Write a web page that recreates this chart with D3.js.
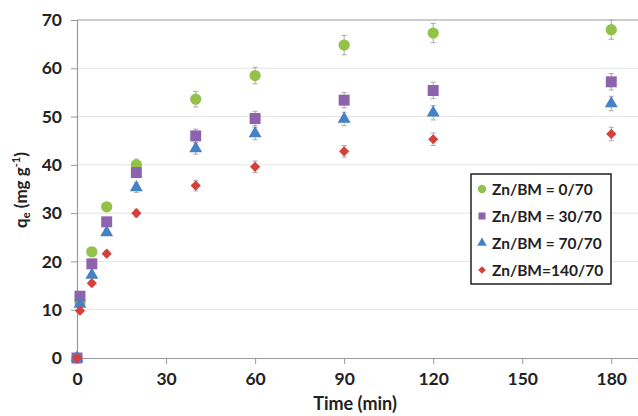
<!DOCTYPE html>
<html><head><meta charset="utf-8">
<script src="https://cdn.jsdelivr.net/npm/d3@7"></script>
<style>
body{margin:0;background:#fff;}
svg{font-family:Lato,"Open Sans",sans-serif;}
</style></head>
<body>
<svg id="c" width="638" height="416"></svg>
<script>
const times = [0, 1, 5, 10, 20, 40, 60, 90, 120, 180];
const seriesNames = ["Zn/BM = 0/70", "Zn/BM = 30/70", "Zn/BM = 70/70", "Zn/BM=140/70"];
const q0 = [0, 11.5, 22.0, 31.3, 40.0, 53.6, 58.5, 64.8, 67.3, 68.0];
const q30 = [0, 12.8, 19.5, 28.2, 38.4, 46.0, 49.6, 53.4, 55.4, 57.2];
const q70 = [0, 11.2, 17.2, 26.0, 35.3, 43.4, 46.5, 49.5, 50.8, 52.7];
const q140 = [0, 9.8, 15.5, 21.6, 30.0, 35.7, 39.6, 42.8, 45.3, 46.4];
const e0 = [0, 0.5, 0.6, 0.8, 1.2, 1.6, 1.7, 2.0, 2.0, 2.0];
const e30 = [0, 0.5, 0.6, 0.7, 1.0, 1.4, 1.5, 1.6, 1.7, 1.7];
const e70 = [0, 0.4, 0.5, 0.6, 1.0, 1.2, 1.3, 1.4, 1.5, 1.5];
const e140 = [0, 0.4, 0.5, 0.6, 0.8, 1.1, 1.2, 1.2, 1.3, 1.4];
const xTicks = [0, 30, 60, 90, 120, 150, 180];
const yTicks = [0, 10, 20, 30, 40, 50, 60, 70];

const colors = ["#92c247", "#8e62ad", "#4581c5", "#d5403b"];
const symbols = [d3.symbolCircle, d3.symbolSquare, d3.symbolTriangle, d3.symbolSquare];
const symRot = [0, 0, 0, 45];
const symSizes = [100, 120, 72, 52];
const legSizes = [55, 50, 40, 30];
const values = [q0, q30, q70, q140];
const errs = [e0, e30, e70, e140];

const svg = d3.select("#c");
const L = 77, R = 638, T = 20, B = 358;
const x = d3.scaleLinear().domain([0, 189]).range([L, R]);
const y = d3.scaleLinear().domain([0, 70]).range([B, T]);
const FONT = "Lato,'Open Sans',sans-serif";

svg.append("g").selectAll("line").data(yTicks.filter(d => d > 0 && d < 70)).join("line")
  .attr("x1", L).attr("x2", R).attr("y1", d => y(d)).attr("y2", d => y(d))
  .attr("stroke", "#e4e4e4").attr("stroke-width", 1);
svg.append("line").attr("x1", L).attr("x2", R).attr("y1", y(70)).attr("y2", y(70))
  .attr("stroke", "#999").attr("stroke-width", 1.2);

const xa = svg.append("g").attr("transform", `translate(0,${B})`)
  .call(d3.axisBottom(x).tickValues(xTicks).tickSize(6).tickPadding(9));
xa.select(".domain").attr("stroke", "#999").attr("stroke-width", 1.2);
xa.selectAll(".tick line").attr("stroke", "#999");
xa.selectAll("text").attr("font-size", 17.5).attr("font-weight", "bold").attr("fill", "#222")
  .attr("font-family", FONT);

const ya = svg.append("g").attr("transform", `translate(${L},0)`)
  .call(d3.axisLeft(y).tickValues(yTicks).tickSize(6).tickPadding(9));
ya.select(".domain").attr("stroke", "#999").attr("stroke-width", 1.2);
ya.selectAll(".tick line").attr("stroke", "#999");
ya.selectAll("text").attr("font-size", 17.5).attr("font-weight", "bold").attr("fill", "#222")
  .attr("font-family", FONT);

svg.append("text").attr("x", 355).attr("y", 410).attr("text-anchor", "middle")
  .attr("font-size", 18).attr("font-weight", "bold").attr("fill", "#222").text("Time (min)");
const yl = svg.append("text").attr("transform", "translate(27,190) rotate(-90)")
  .attr("text-anchor", "middle").attr("font-size", 17).attr("font-weight", "bold").attr("fill", "#222");
yl.append("tspan").text("q");
yl.append("tspan").attr("font-size", 11).attr("dy", 3).text("e");
yl.append("tspan").attr("dy", -3).text(" (mg g");
yl.append("tspan").attr("font-size", 11).attr("dy", -7).text("-1");
yl.append("tspan").attr("dy", 7).text(")");

values.forEach((vals, si) => {
  const g = svg.append("g");
  const pts = times.map((t, i) => ({t, v: vals[i], e: errs[si][i]}));
  const eb = g.append("g").attr("stroke", "#aaa").attr("stroke-width", 1);
  pts.filter(p => p.e > 0).forEach(p => {
    eb.append("line").attr("x1", x(p.t)).attr("x2", x(p.t)).attr("y1", y(p.v - p.e)).attr("y2", y(p.v + p.e));
    eb.append("line").attr("x1", x(p.t) - 2.5).attr("x2", x(p.t) + 2.5).attr("y1", y(p.v - p.e)).attr("y2", y(p.v - p.e));
    eb.append("line").attr("x1", x(p.t) - 2.5).attr("x2", x(p.t) + 2.5).attr("y1", y(p.v + p.e)).attr("y2", y(p.v + p.e));
  });
  g.selectAll("path.m").data(pts).join("path").attr("class", "m")
    .attr("transform", p => `translate(${x(p.t)},${y(p.v)}) rotate(${symRot[si]})`)
    .attr("d", d3.symbol().type(symbols[si]).size(symSizes[si]))
    .attr("fill", colors[si]);
});

const lg = svg.append("g");
lg.append("rect").attr("x", 471).attr("y", 174).attr("width", 140).attr("height", 110)
  .attr("fill", "#fff").attr("stroke", "#222").attr("stroke-width", 1.5);
seriesNames.forEach((n, i) => {
  const cy = 189 + i * 27;
  lg.append("path").attr("transform", `translate(482,${cy}) rotate(${symRot[i]})`)
    .attr("d", d3.symbol().type(symbols[i]).size(legSizes[i])).attr("fill", colors[i]);
  lg.append("text").attr("x", 492).attr("y", cy + 5.5).attr("font-size", 15.5).attr("font-weight", "bold")
    .attr("fill", "#222").text(n);
});
</script>
</body></html>
